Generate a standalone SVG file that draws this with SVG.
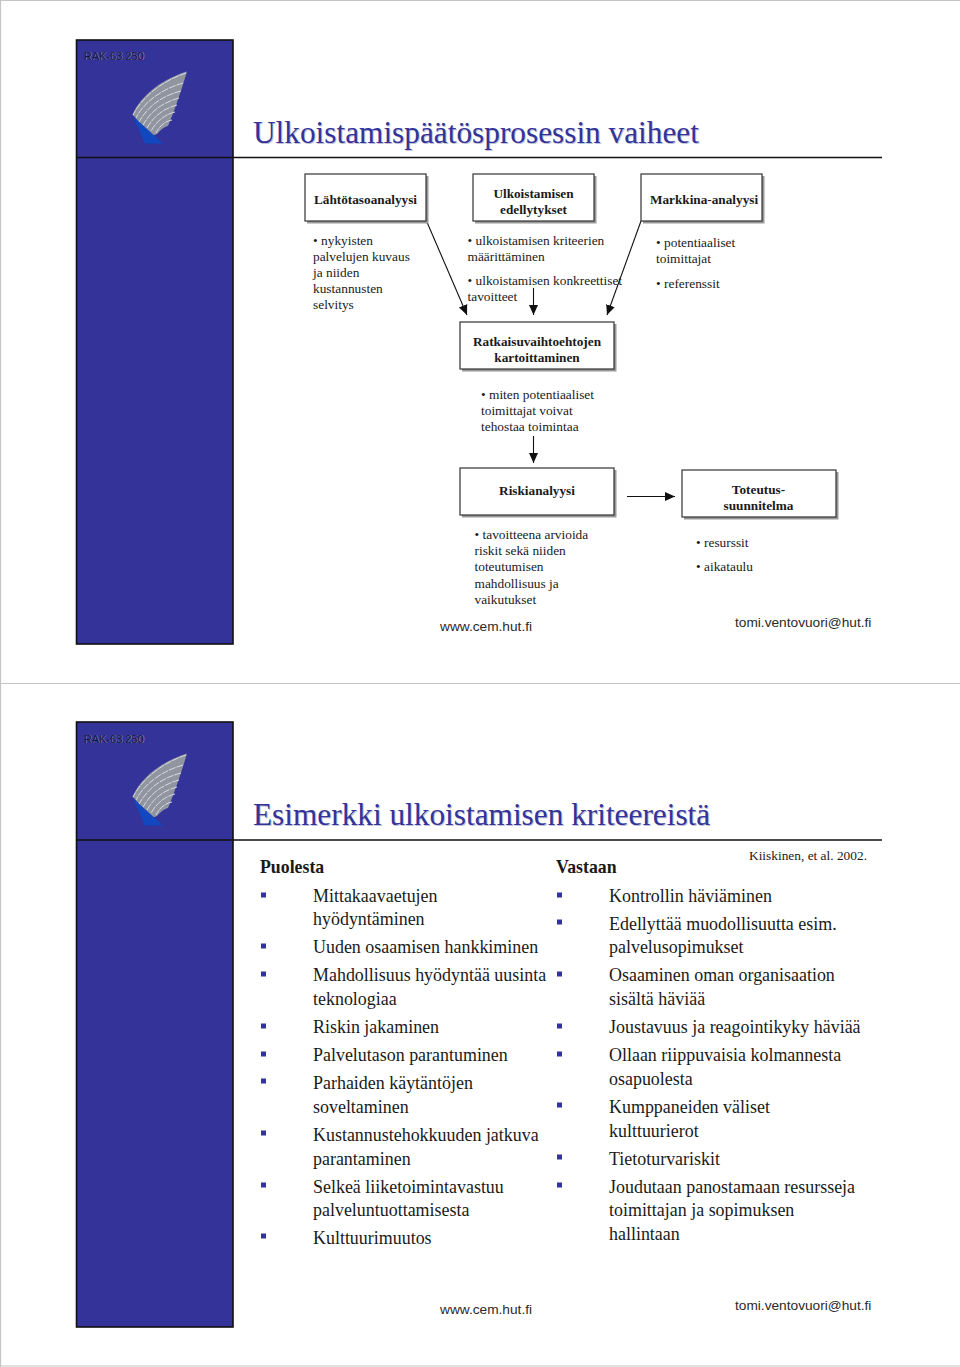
<svg xmlns="http://www.w3.org/2000/svg" xmlns:xlink="http://www.w3.org/1999/xlink" width="960" height="1367" viewBox="0 0 960 1367">
<style>
text{font-family:"Liberation Serif","Times New Roman",serif;fill:#1a1a1a}
.s{font-size:13.36px}
.b{font-size:13.25px;font-weight:bold;text-anchor:middle}
.l{font-size:17.95px}
.h{font-size:17.8px;font-weight:bold}
.t{font-size:31.3px;fill:#333399}
.ts{font-size:31.3px;fill:#c2c2d6}
.f{font-family:"Liberation Sans",Arial,sans-serif;font-size:13.7px;fill:#2a2a2a}
.r{font-family:"Liberation Sans",Arial,sans-serif;font-size:11px;fill:#14143c}
.rs{font-family:"Liberation Sans",Arial,sans-serif;font-size:11px;fill:#9a9ac0}
.box{fill:#fff;stroke:#333;stroke-width:1.2}
.sh{fill:#999}
.c{fill:none;stroke:#111;stroke-width:1.1;marker-end:url(#a)}
.bu{fill:#333399}
.rule{stroke:#111;stroke-width:1.6}
.edge{stroke:#c4c4c4;stroke-width:1.2}
</style>
<defs>
<marker id="a" markerUnits="userSpaceOnUse" markerWidth="11" markerHeight="11" refX="10" refY="5.5" orient="auto"><path d="M0,1L10,5.500L0,10Z" fill="#111"/></marker>
<g id="logo">
<path d="M187,71.500C165,78 141,94 132.500,115L135,117C138,122 145,130 152,136L157,134C162,128 167,126 168,126C175,110 183,85 187,71.500Z" fill="#90959f"/>
<g fill="none" stroke="#dfe3ea" stroke-width="0.9" stroke-dasharray="7 1">
<path d="M186,73C165,80 143,95 133,115M183,83C165,88 145,100 136,118M181,91C165,95 149,104 139,122M179,98C165,102 152,109 143,125M177,105C166,108 155,114 147,128M175,112C167,114 158,119 151,131M172,120C166,121 160,125 156,133"/>
</g>
<path d="M132.700,116L145,143.500L163,143.500Z" fill="#1148c0"/>
</g>
</defs>
<rect width="960" height="1367" fill="#fff"/>
<path class="edge" d="M0.500,0V1367M0,0.500H960M0,683.500H960M0,1366H960"/>

<g id="slide-1">
<rect x="76.500" y="40" width="156.500" height="604" fill="#333399" stroke="#111" stroke-width="1.6"/>
<use href="#logo"/>
<text class="rs" x="84.600" y="60.400">RAK-63.250</text>
<text class="r" x="84" y="60">RAK-63.250</text>
<line class="rule" x1="76" y1="157.500" x2="882" y2="157.500"/>
<text class="ts" x="254" y="144">Ulkoistamispäätösprosessin vaiheet</text>
<text class="t" x="253" y="143">Ulkoistamispäätösprosessin vaiheet</text>
<g id="connectors-1">
<path class="c" d="M426.500,221L467,315"/>
<path class="c" d="M533.500,288V315"/>
<path class="c" d="M641,221L607,315"/>
<path class="c" d="M533.500,436V463"/>
<path class="c" d="M627,496.500H675"/>
</g>
<g id="n-lahto"><rect class="sh" x="307" y="176" width="121.500" height="47.500"/><rect class="box" x="305" y="174" width="121" height="47"/><text class="b" x="365.500" y="204">Lähtötasoanalyysi</text></g>
<g id="n-edel"><rect class="sh" x="475" y="176" width="121.500" height="47.500"/><rect class="box" x="473" y="174" width="121" height="47"/><text class="b" x="533.500" y="197.500">Ulkoistamisen</text><text class="b" x="533.500" y="213.500">edellytykset</text></g>
<g id="n-mark"><rect class="sh" x="643" y="176" width="121.500" height="47.500"/><rect class="box" x="641" y="174" width="121" height="47"/><text class="b" x="704" y="204">Markkina-analyysi</text></g>
<g id="n-ratk"><rect class="sh" x="462" y="324" width="154.500" height="47.500"/><rect class="box" x="460" y="322" width="154" height="47"/><text class="b" x="537" y="345.500">Ratkaisuvaihtoehtojen</text><text class="b" x="537" y="361.500">kartoittaminen</text></g>
<g id="n-riski"><rect class="sh" x="462" y="470" width="154.500" height="47.500"/><rect class="box" x="460" y="468" width="154" height="47"/><text class="b" x="537" y="495">Riskianalyysi</text></g>
<g id="n-tot"><rect class="sh" x="684" y="472" width="154.500" height="47.500"/><rect class="box" x="682" y="470" width="154" height="47"/><text class="b" x="758.500" y="493.500">Toteutus-</text><text class="b" x="758.500" y="509.500">suunnitelma</text></g>
<g class="s">
<text x="313" y="244.500">• nykyisten</text><text x="313" y="260.500">palvelujen kuvaus</text><text x="313" y="276.500">ja niiden</text><text x="313" y="292.500">kustannusten</text><text x="313" y="308.500">selvitys</text>
<text x="467.500" y="244.500">• ulkoistamisen kriteerien</text><text x="467.500" y="260.500">määrittäminen</text><text x="467.500" y="284.500">• ulkoistamisen konkreettiset</text><text x="467.500" y="300.500">tavoitteet</text>
<text x="656" y="246.500">• potentiaaliset</text><text x="656" y="262.500">toimittajat</text><text x="656" y="287.500">• referenssit</text>
<text x="481" y="399">• miten potentiaaliset</text><text x="481" y="415">toimittajat voivat</text><text x="481" y="431">tehostaa toimintaa</text>
<text x="474.500" y="539">• tavoitteena arvioida</text><text x="474.500" y="555">riskit sekä niiden</text><text x="474.500" y="571">toteutumisen</text><text x="474.500" y="587.500">mahdollisuus ja</text><text x="474.500" y="603.500">vaikutukset</text>
<text x="696" y="547">• resurssit</text><text x="696" y="571">• aikataulu</text>
</g>
<text class="f" x="440" y="631">www.cem.hut.fi</text>
<text class="f" x="735" y="627">tomi.ventovuori@hut.fi</text>
</g>

<g id="slide-2">
<rect x="76.500" y="722" width="156.500" height="605" fill="#333399" stroke="#111" stroke-width="1.6"/>
<use href="#logo" y="682"/>
<text class="rs" x="84.600" y="742.900">RAK-63.250</text>
<text class="r" x="84" y="742.500">RAK-63.250</text>
<line class="rule" x1="76" y1="840" x2="882" y2="840"/>
<text class="ts" x="254" y="826">Esimerkki ulkoistamisen kriteereistä</text>
<text class="t" x="253" y="825">Esimerkki ulkoistamisen kriteereistä</text>
<text class="s" x="749" y="860">Kiiskinen, et al. 2002.</text>
<text class="h" x="260" y="873">Puolesta</text>
<text class="h" x="556" y="873">Vastaan</text>
<g id="bullets">
<path class="bu" d="M261,892.500h5v5h-5zM261,943.500h5v5h-5zM261,971.500h5v5h-5zM261,1023.500h5v5h-5zM261,1051.500h5v5h-5zM261,1078.500h5v5h-5zM261,1130.500h5v5h-5zM261,1182.500h5v5h-5zM261,1233.500h5v5h-5zM557,892.500h5v5h-5zM557,919.500h5v5h-5zM557,971.500h5v5h-5zM557,1023.500h5v5h-5zM557,1051.500h5v5h-5zM557,1102.500h5v5h-5zM557,1154.500h5v5h-5zM557,1182.500h5v5h-5z"/>
</g>
<g class="l">
<text x="313" y="902">Mittakaavaetujen</text><text x="313" y="925">hyödyntäminen</text><text x="313" y="953">Uuden osaamisen hankkiminen</text><text x="313" y="981">Mahdollisuus hyödyntää uusinta</text><text x="313" y="1005">teknologiaa</text><text x="313" y="1033">Riskin jakaminen</text><text x="313" y="1061">Palvelutason parantuminen</text><text x="313" y="1089">Parhaiden käytäntöjen</text><text x="313" y="1113">soveltaminen</text><text x="313" y="1141">Kustannustehokkuuden jatkuva</text><text x="313" y="1165">parantaminen</text><text x="313" y="1192.500">Selkeä liiketoimintavastuu</text><text x="313" y="1216">palveluntuottamisesta</text><text x="313" y="1244">Kulttuurimuutos</text>
<text x="609" y="902">Kontrollin häviäminen</text><text x="609" y="930">Edellyttää muodollisuutta esim.</text><text x="609" y="953">palvelusopimukset</text><text x="609" y="981">Osaaminen oman organisaation</text><text x="609" y="1005">sisältä häviää</text><text x="609" y="1033">Joustavuus ja reagointikyky häviää</text><text x="609" y="1061">Ollaan riippuvaisia kolmannesta</text><text x="609" y="1085">osapuolesta</text><text x="609" y="1113">Kumppaneiden väliset</text><text x="609" y="1137">kulttuurierot</text><text x="609" y="1164.500">Tietoturvariskit</text><text x="609" y="1192.500">Joudutaan panostamaan resursseja</text><text x="609" y="1216">toimittajan ja sopimuksen</text><text x="609" y="1240">hallintaan</text>
</g>
<text class="f" x="440" y="1314">www.cem.hut.fi</text>
<text class="f" x="735" y="1310">tomi.ventovuori@hut.fi</text>
</g>
</svg>
